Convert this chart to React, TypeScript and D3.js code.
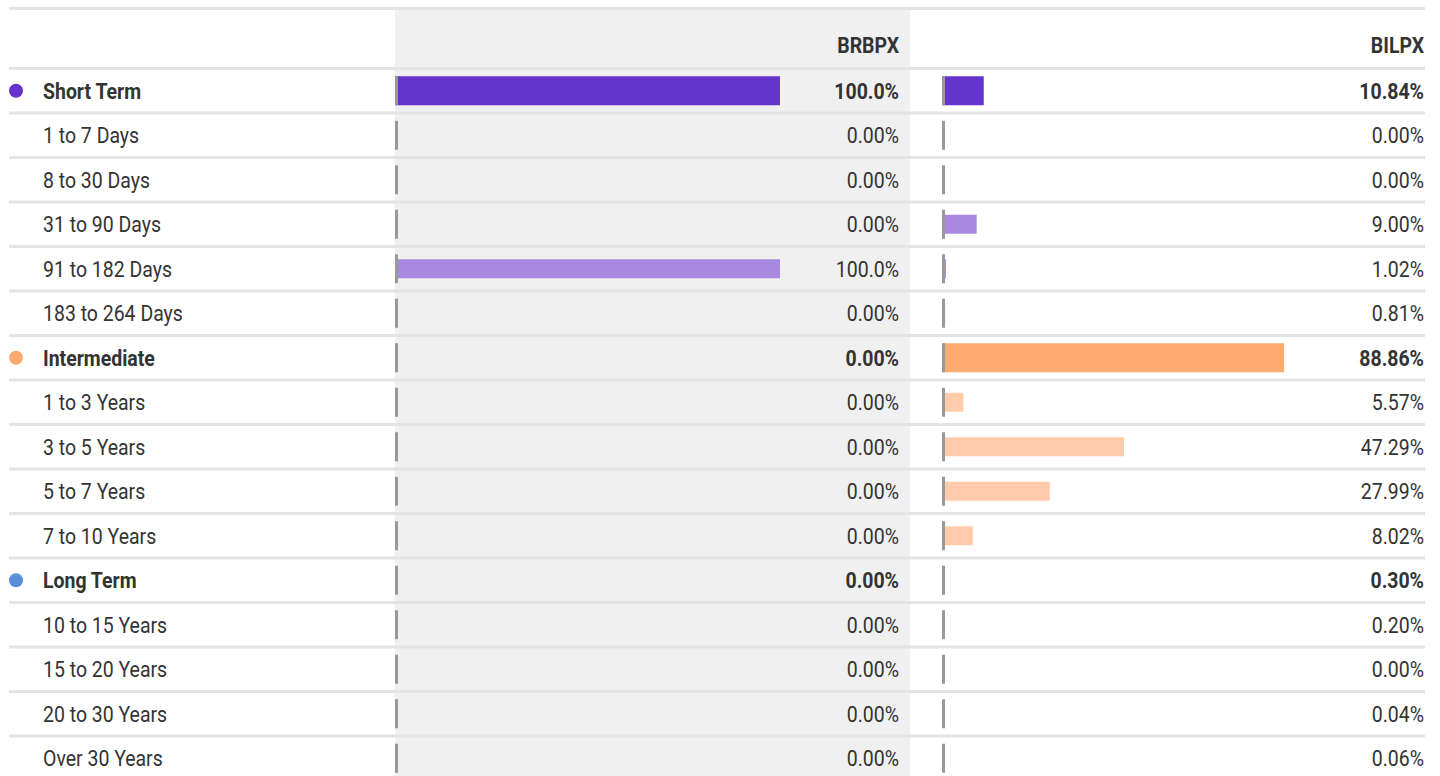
import React from "react";
import * as d3 from "d3";

const categories = [
  "Short Term", "1 to 7 Days", "8 to 30 Days", "31 to 90 Days", "91 to 182 Days", "183 to 264 Days",
  "Intermediate", "1 to 3 Years", "3 to 5 Years", "5 to 7 Years", "7 to 10 Years",
  "Long Term", "10 to 15 Years", "15 to 20 Years", "20 to 30 Years", "Over 30 Years",
];
const groupOf = [0, 0, 0, 0, 0, 0, 1, 1, 1, 1, 1, 2, 2, 2, 2, 2];
const isGroupRow = [true, false, false, false, false, false, true, false, false, false, false, true, false, false, false, false];
const funds = ["BRBPX", "BILPX"];
const brbpx = [100, 0, 0, 0, 100, 0, 0, 0, 0, 0, 0, 0, 0, 0, 0, 0];
const bilpx = [10.84, 0, 0, 9.0, 1.02, 0.81, 88.86, 5.57, 47.29, 27.99, 8.02, 0.3, 0.2, 0, 0.04, 0.06];
const groupColors = ["#6633cc", "#ffaa70", "#5b8edb"];
const subColors = ["#a888e0", "#ffcbaa", "#a9c6ed"];

const W = 1440;
const H = 776;
const TEXT = "#333333";
const LINE = "#e4e4e4";
const SX = 0.885;

function fmt(v: number) {
  return (v >= 100 ? v.toFixed(1) : v.toFixed(2)) + "%";
}

export default function App() {
  const series = [brbpx, bilpx];
  const tableX0 = 9;
  const tableX1 = 1425;
  const colStarts = [395, 910];
  const barStarts = [395, 942];
  const valueRight = [899, 1424];
  const headerSep = 68.5;
  const pitch = 44.5;

  const x = d3.scaleLinear().domain([0, 100]).range([0, 385]);
  const rowY = d3
    .scaleLinear()
    .domain([0, 1])
    .range([headerSep, headerSep + pitch]);
  const center = (i: number) => rowY(i) + pitch / 2;

  const font = "Roboto, 'Noto Sans', sans-serif";

  return (
    <svg
      width={W}
      height={H}
      style={{ position: "absolute", left: 0, top: 0, background: "#fff" }}
      fontFamily={font}
    >
      {/* highlighted first column band */}
      <rect x={colStarts[0]} y={10} width={colStarts[1] - colStarts[0]} height={H} fill="#f0f0f0" />

      {/* lines */}
      <rect x={tableX0} y={7} width={tableX1 - tableX0} height={3} fill={LINE} />
      {categories.map((_, i) => (
        <rect key={"l" + i} x={tableX0} y={rowY(i) - 1.5} width={tableX1 - tableX0} height={3} fill={LINE} />
      ))}
      <rect x={tableX0} y={rowY(categories.length) - 1.5} width={tableX1 - tableX0} height={3} fill={LINE} />

      {/* headers */}
      {funds.map((f, k) => (
        <text
          key={f}
          transform={`translate(${valueRight[k]},53) scale(${SX},1)`}
          textAnchor="end"
          fontSize={22}
          fontWeight={700}
          fill={TEXT}
        >
          {f}
        </text>
      ))}

      {categories.map((c, i) => {
        const cy = center(i);
        const g = groupOf[i];
        const grp = isGroupRow[i];
        const bh = grp ? 29 : 19;
        return (
          <g key={c}>
            {grp && <circle cx={16} cy={cy} r={7} fill={groupColors[g]} />}
            <text
              transform={`translate(43,${cy + 7.8}) scale(${SX},1)`}
              fontSize={22}
              fontWeight={grp ? 700 : 400}
              fill={TEXT}
            >
              {c}
            </text>
            {series.map((s, k) => (
              <g key={k}>
                <rect
                  x={barStarts[k]}
                  y={cy - bh / 2}
                  width={x(s[i])}
                  height={bh}
                  fill={grp ? groupColors[g] : subColors[g]}
                />
                <rect x={barStarts[k]} y={cy - 14.5} width={3} height={29} fill="#999999" />
                <text
                  transform={`translate(${valueRight[k]},${cy + 7.8}) scale(${SX},1)`}
                  textAnchor="end"
                  fontSize={22}
                  fontWeight={grp ? 700 : 400}
                  fill={TEXT}
                >
                  {fmt(s[i])}
                </text>
              </g>
            ))}
          </g>
        );
      })}
    </svg>
  );
}
